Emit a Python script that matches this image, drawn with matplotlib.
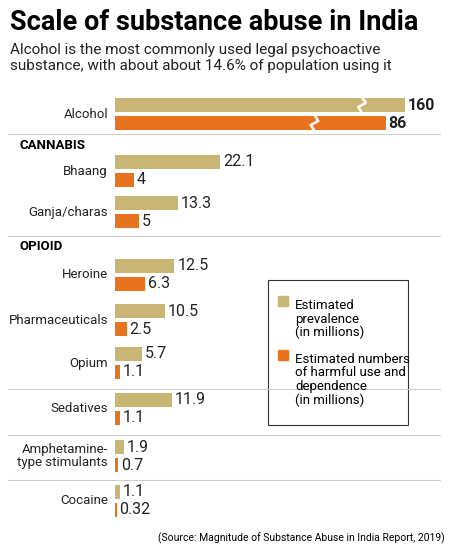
import matplotlib
matplotlib.use("Agg")
import matplotlib.pyplot as plt

labels = ["Alcohol", "Bhaang", "Ganja/charas", "Heroine", "Pharmaceuticals", "Opium",
          "Sedatives", "Amphetamine-\ntype stimulants", "Cocaine"]
prevalence = [160, 22.1, 13.3, 12.5, 10.5, 5.7, 11.9, 1.9, 1.1]
harmful = [86, 4, 5, 6.3, 2.5, 1.1, 1.1, 0.7, 0.32]
prev_txt = ["160", "22.1", "13.3", "12.5", "10.5", "5.7", "11.9", "1.9", "1.1"]
harm_txt = ["86", "4", "5", "6.3", "2.5", "1.1", "1.1", "0.7", "0.32"]
# broken-axis display lengths for alcohol bars
alc_display = [61.0, 57.0]

TAN = "#c9b574"
ORG = "#e8731e"
W, H = 452, 556
fig = plt.figure(figsize=(W/100, H/100), dpi=100)
fig.patch.set_facecolor("white")
plt.rcParams['font.family'] = ['Roboto', 'DejaVu Sans']

x0, x1, y0, y1 = 115, 440, 90, 530
ax = fig.add_axes([x0/W, 1-y1/H, (x1-x0)/W, (y1-y0)/H])
ax.set_xlim(0, (x1-x0)/4.75)
ax.set_ylim(y1, y0)
ax.axis("off")

tan_y = [105, 162, 203, 266, 311, 354, 400, 447, 492]
bh = 14
for i, lab in enumerate(labels):
    p = prevalence[i] if i else alc_display[0]
    h = harmful[i] if i else alc_display[1]
    ax.barh(tan_y[i], p, height=bh, color=TAN)
    ax.barh(tan_y[i]+18, h, height=bh, color=ORG)
    fw = "bold" if i == 0 else "normal"
    ax.text(p+0.6, tan_y[i], prev_txt[i], va="center", ha="left", fontsize=11.5, fontweight=fw, color="#222")
    ax.text(h+0.6, tan_y[i]+18, harm_txt[i], va="center", ha="left", fontsize=11.5, fontweight=fw, color="#222")
    fig.text(108/W, 1-(tan_y[i]+9)/H, lab, ha="right", va="center", fontsize=9.5, color="#222",
             linespacing=1.0)

for xb, yb in [(52, 105), (42, 123)]:
    ax.plot([xb, xb+0.8, xb-0.8, xb], [yb-8, yb-2, yb+2, yb+8], color="white", lw=1.8)

fig.text(20/W, 1-146/H, "CANNABIS", fontsize=9.5, fontweight="bold", va="center")
fig.text(20/W, 1-247/H, "OPIOID", fontsize=9.5, fontweight="bold", va="center")

for yl in [134, 236, 389, 435, 480]:
    fig.add_artist(plt.Line2D([8/W, 440/W], [1-yl/H]*2, color="#cccccc", lw=0.8))

fig.text(10/W, 1-22/H, "Scale of substance abuse in India", fontsize=19.5, fontweight="bold", va="center")
fig.text(10/W, 1-58/H, "Alcohol is the most commonly used legal psychoactive\n"
         "substance, with about about 14.6% of population using it",
         fontsize=11, va="center", color="#222", linespacing=1.15)

fig.add_artist(plt.Rectangle((268/W, 1-425/H), 140/W, 145/H, fill=False, ec="#333", lw=0.8))
fig.add_artist(plt.Rectangle((278/W, 1-306/H), 10/W, 10/H, color=TAN))
fig.text(295/W, 1-299/H, "Estimated\nprevalence\n(in millions)", fontsize=9.5, va="top", linespacing=1.05)
fig.add_artist(plt.Rectangle((278/W, 1-360/H), 10/W, 10/H, color=ORG))
fig.text(295/W, 1-353/H, "Estimated numbers\nof harmful use and\ndependence\n(in millions)",
         fontsize=9.5, va="top", linespacing=1.05)

fig.text(445/W, 1-538/H, "(Source: Magnitude of Substance Abuse in India Report, 2019)",
         fontsize=7.5, ha="right", va="center")

fig.savefig("out.png", dpi=100)
